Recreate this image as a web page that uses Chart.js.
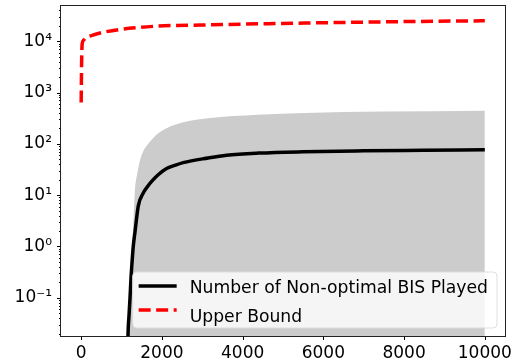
<!DOCTYPE html>
<html>
<head>
<meta charset="utf-8">
<script src="https://cdn.jsdelivr.net/npm/chart.js@4.4.0/dist/chart.umd.min.js"></script>
<style>
    body { margin: 0; background: #fff; }
</style>
</head>
<body>
<canvas id="boundChart" width="513" height="362"></canvas>
<script>
// values
const boundX = [0, 10, 25, 60, 100, 272, 600, 1178, 1918, 3000, 4000, 6000, 8000, 10000];
const boundY = [640, 3500, 8900, 10500, 11400, 13000, 15200, 17800, 19700, 20700, 21500, 22900, 24100, 25000];

const playedX = [1150, 1160, 1185, 1210, 1235, 1252, 1290, 1333, 1415, 1538, 1622, 1785, 1908, 2116, 2321, 2526, 3143, 3600, 4400, 5500, 7000, 8500, 10000];
const playedY = [0.005, 0.018, 0.045, 0.1, 0.25, 0.4, 1.0, 1.9, 6.2, 11, 14, 20, 25, 33, 38, 43, 53, 60, 66, 70, 73, 75, 77];

const bandX = [1170, 1215, 1252, 1300, 1333, 1375, 1457, 1538, 1662, 1908, 2321, 3143, 4378, 5531, 7500, 10000];
const bandUpper = [0.005, 0.1, 0.65, 3.9, 13, 23, 48, 72, 100, 160, 236, 315, 370, 400, 425, 443];

const xTickValues = [0, 2000, 4000, 6000, 8000, 10000];
const yTickValues = [0.1, 1, 10, 100, 1000, 10000];
const yTickLabels = ['10⁻¹', '10⁰', '10¹', '10²', '10³', '10⁴'];

const legendLabels = ['Number of Non-optimal BIS Played', 'Upper Bound'];

const FONT = "'DejaVu Sans', sans-serif";

const toPoints = (xs, ys) => xs.map((x, i) => ({ x: x, y: ys[i] }));

const minorTicks = () => {
    const out = [];
    for (let k = -2; k <= 4; k++) {
        for (let m = 2; m <= 9; m++) {
            const v = Number((m * Math.pow(10, k)).toPrecision(6));
            if (v >= 0.018 && v <= 48500) out.push(v);
        }
    }
    return out;
};

const noScalePadding = (scale) => {
    scale.paddingLeft = 0;
    scale.paddingRight = 0;
    scale.paddingTop = 0;
    scale.paddingBottom = 0;
};

// matplotlib-like frame and outward ticks
const frameAndTicks = {
    id: 'frameAndTicks',
    afterDraw(chart) {
        const { ctx, chartArea: a, scales } = chart;
        ctx.save();
        ctx.strokeStyle = '#000';
        ctx.lineWidth = 1;
        ctx.beginPath();
        xTickValues.forEach(v => {
            const px = Math.round(scales.x.getPixelForValue(v)) + 0.5;
            ctx.moveTo(px, a.bottom);
            ctx.lineTo(px, a.bottom + 4);
        });
        yTickValues.forEach(v => {
            const py = Math.round(scales.y.getPixelForValue(v)) + 0.5;
            ctx.moveTo(a.left - 4, py);
            ctx.lineTo(a.left, py);
        });
        minorTicks().forEach(v => {
            const py = Math.round(scales.y.getPixelForValue(v)) + 0.5;
            ctx.moveTo(a.left - 2, py);
            ctx.lineTo(a.left, py);
        });
        ctx.stroke();
        ctx.strokeStyle = '#222';
        ctx.strokeRect(Math.round(a.left) - 0.5, Math.round(a.top) - 0.5,
            Math.round(a.right - a.left) + 1, Math.round(a.bottom - a.top) + 1);
        ctx.restore();
    }
};

// legend drawn inside the plot, lower right
const insideLegend = {
    id: 'insideLegend',
    afterDraw(chart) {
        const { ctx, chartArea: a } = chart;
        ctx.save();
        ctx.font = '17.2px ' + FONT;
        const textW = Math.max(...legendLabels.map(t => ctx.measureText(t).width));
        const right = a.right - 8;
        const bottom = a.bottom - 8;
        const w = 6 + 38 + 13 + textW + 9;
        const h = 56;
        const left = right - w;
        const top = bottom - h;
        const r = 4;

        ctx.beginPath();
        ctx.moveTo(left + r, top);
        ctx.arcTo(right, top, right, bottom, r);
        ctx.arcTo(right, bottom, left, bottom, r);
        ctx.arcTo(left, bottom, left, top, r);
        ctx.arcTo(left, top, right, top, r);
        ctx.closePath();
        ctx.fillStyle = 'rgba(255,255,255,0.8)';
        ctx.fill();
        ctx.strokeStyle = 'rgba(220,220,220,0.9)';
        ctx.lineWidth = 1;
        ctx.stroke();

        const hx = left + 6;
        ctx.lineWidth = 3.5;
        ctx.lineCap = 'butt';
        ctx.strokeStyle = '#000';
        ctx.beginPath();
        ctx.moveTo(hx, top + 14);
        ctx.lineTo(hx + 38, top + 14);
        ctx.stroke();

        ctx.strokeStyle = '#ff0000';
        ctx.setLineDash([12, 5.5]);
        ctx.beginPath();
        ctx.moveTo(hx, top + 38);
        ctx.lineTo(hx + 38, top + 38);
        ctx.stroke();
        ctx.setLineDash([]);

        ctx.fillStyle = '#000';
        ctx.textBaseline = 'middle';
        ctx.textAlign = 'left';
        ctx.fillText(legendLabels[0], hx + 51, top + 17);
        ctx.fillText(legendLabels[1], hx + 51, top + 46);
        ctx.restore();
    }
};

const createBoundChart = () => {
    const ctx = document.getElementById('boundChart');
    if (!ctx) return;

    return new Chart(ctx, {
        type: 'line',
        data: {
            datasets: [{
                label: legendLabels[0],
                data: toPoints(playedX, playedY),
                borderColor: '#000',
                borderWidth: 3.5,
                pointRadius: 0,
                cubicInterpolationMode: 'monotone',
                fill: false,
                order: 1
            }, {
                label: legendLabels[1],
                data: toPoints(boundX, boundY),
                borderColor: '#ff0000',
                borderWidth: 3.5,
                borderDash: [12, 5.5],
                borderCapStyle: 'butt',
                pointRadius: 0,
                cubicInterpolationMode: 'monotone',
                fill: false,
                order: 0
            }, {
                label: 'band',
                data: toPoints(bandX, bandUpper),
                borderWidth: 0,
                borderColor: 'rgba(0,0,0,0)',
                backgroundColor: '#cccccc',
                pointRadius: 0,
                cubicInterpolationMode: 'monotone',
                fill: { value: 0.001 },
                order: 2
            }]
        },
        options: {
            responsive: false,
            animation: false,
            layout: { padding: { top: 6, right: 8, left: 0, bottom: 0 } },
            plugins: {
                legend: { display: false },
                tooltip: { enabled: false }
            },
            scales: {
                x: {
                    type: 'linear',
                    min: -500,
                    max: 10500,
                    grid: { display: false, drawTicks: false },
                    border: { display: false },
                    afterBuildTicks: (scale) => {
                        scale.ticks = xTickValues.map(v => ({ value: v }));
                    },
                    afterFit: (scale) => {
                        scale.height = 26;
                        noScalePadding(scale);
                    },
                    ticks: {
                        padding: 7,
                        maxRotation: 0,
                        autoSkip: false,
                        color: '#000',
                        font: { family: FONT, size: 17 },
                        callback: (value) => String(value)
                    }
                },
                y: {
                    type: 'logarithmic',
                    min: 0.018,
                    max: 48500,
                    grid: { display: false, drawTicks: false },
                    border: { display: false },
                    afterBuildTicks: (scale) => {
                        scale.ticks = yTickValues.map(v => ({ value: v }));
                    },
                    afterFit: (scale) => {
                        scale.width = 61;
                        noScalePadding(scale);
                    },
                    ticks: {
                        padding: 9,
                        autoSkip: false,
                        color: '#000',
                        font: { family: FONT, size: 17 },
                        callback: (value) => {
                            const i = yTickValues.findIndex(v => Math.abs(v - value) / v < 1e-6);
                            return i >= 0 ? yTickLabels[i] : '';
                        }
                    }
                }
            }
        },
        plugins: [frameAndTicks, insideLegend]
    });
};

createBoundChart();
</script>
</body>
</html>
